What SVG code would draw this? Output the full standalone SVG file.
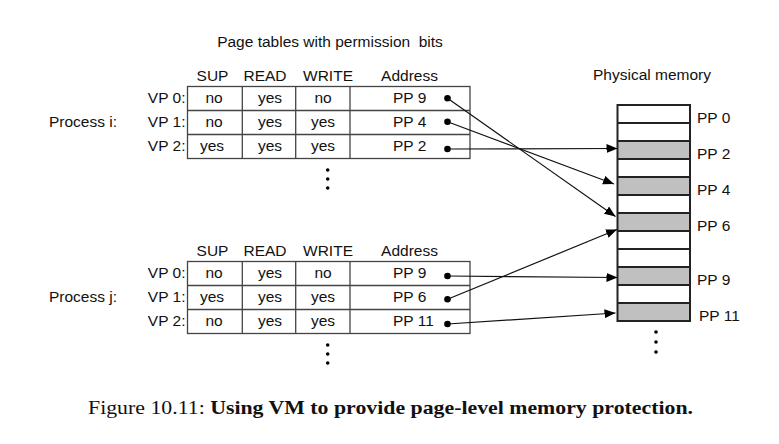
<svg xmlns="http://www.w3.org/2000/svg" width="779" height="444" viewBox="0 0 779 444">
<style>
text{font-family:"Liberation Sans",Arial,sans-serif;font-size:15.5px;fill:#111}
.c{text-anchor:middle}
.r{text-anchor:end}
.tb{fill:#fff;stroke:#444;stroke-width:1.3}
.tl{stroke:#444;stroke-width:1.3}
.mem{stroke:#222;stroke-width:2}
.g{fill:#c0c0c0}
.w{fill:#fff}
.cap{font-family:"Liberation Serif","Times New Roman",serif;font-size:19.5px;fill:#111}
.con{stroke:#111;stroke-width:1.2;fill:none;marker-end:url(#ah)}
</style>
<defs>
<marker id="ah" markerUnits="userSpaceOnUse" markerWidth="12" markerHeight="10" refX="11" refY="4.5" orient="auto">
<path d="M0,0 L11,4.5 L0,9 z" fill="#000"/>
</marker>
</defs>
<rect width="779" height="444" fill="#fff"/>

<text id="title" class="c" x="330" y="47" xml:space="preserve">Page tables with permission  bits</text>

<g id="table-i">
<text class="c" x="212.5" y="80.7">SUP</text>
<text class="c" x="265" y="80.7">READ</text>
<text class="c" x="328" y="80.7">WRITE</text>
<text class="c" x="409.5" y="80.7">Address</text>
<rect class="tb" x="187.5" y="86.5" width="282.5" height="72"/>
<line class="tl" x1="187.5" y1="110.5" x2="470" y2="110.5"/>
<line class="tl" x1="187.5" y1="134.5" x2="470" y2="134.5"/>
<line class="tl" x1="242.3" y1="86.5" x2="242.3" y2="158.5"/>
<line class="tl" x1="295.7" y1="86.5" x2="295.7" y2="158.5"/>
<line class="tl" x1="350" y1="86.5" x2="350" y2="158.5"/>
<text class="r" x="185.5" y="102.5">VP 0:</text>
<text class="r" x="185.5" y="126.5">VP 1:</text>
<text class="r" x="185.5" y="150.5">VP 2:</text>
<text class="c" x="214" y="102.5">no</text>
<text class="c" x="270" y="102.5">yes</text>
<text class="c" x="323" y="102.5">no</text>
<text class="c" x="214" y="126.5">no</text>
<text class="c" x="270" y="126.5">yes</text>
<text class="c" x="323" y="126.5">yes</text>
<text class="c" x="212" y="150.5">yes</text>
<text class="c" x="270" y="150.5">yes</text>
<text class="c" x="323" y="150.5">yes</text>
<text x="393" y="102.5">PP 9</text>
<text x="393" y="126.5">PP 4</text>
<text x="393" y="150.5">PP 2</text>
<circle cx="447.5" cy="98.3" r="3.3" fill="#000"/>
<circle cx="447.5" cy="121.7" r="3.3" fill="#000"/>
<circle cx="447.5" cy="149" r="3.3" fill="#000"/>
<circle cx="327.7" cy="170" r="1.8" fill="#000"/>
<circle cx="327.7" cy="179" r="1.8" fill="#000"/>
<circle cx="327.7" cy="188" r="1.8" fill="#000"/>
</g>
<text id="proc-i" x="49" y="126.5">Process i:</text>

<g id="table-j">
<text class="c" x="212.5" y="255.7">SUP</text>
<text class="c" x="265" y="255.7">READ</text>
<text class="c" x="328" y="255.7">WRITE</text>
<text class="c" x="409.5" y="255.7">Address</text>
<rect class="tb" x="187.5" y="261.5" width="282.5" height="72"/>
<line class="tl" x1="187.5" y1="285.5" x2="470" y2="285.5"/>
<line class="tl" x1="187.5" y1="309.5" x2="470" y2="309.5"/>
<line class="tl" x1="242.3" y1="261.5" x2="242.3" y2="333.5"/>
<line class="tl" x1="295.7" y1="261.5" x2="295.7" y2="333.5"/>
<line class="tl" x1="350" y1="261.5" x2="350" y2="333.5"/>
<text class="r" x="185.5" y="277.5">VP 0:</text>
<text class="r" x="185.5" y="301.5">VP 1:</text>
<text class="r" x="185.5" y="325.5">VP 2:</text>
<text class="c" x="214" y="277.5">no</text>
<text class="c" x="270" y="277.5">yes</text>
<text class="c" x="323" y="277.5">no</text>
<text class="c" x="212" y="301.5">yes</text>
<text class="c" x="270" y="301.5">yes</text>
<text class="c" x="323" y="301.5">yes</text>
<text class="c" x="214" y="325.5">no</text>
<text class="c" x="270" y="325.5">yes</text>
<text class="c" x="323" y="325.5">yes</text>
<text x="393" y="277.5">PP 9</text>
<text x="393" y="301.5">PP 6</text>
<text x="393" y="325.5">PP 11</text>
<circle cx="447.5" cy="276" r="3.3" fill="#000"/>
<circle cx="447.5" cy="299.3" r="3.3" fill="#000"/>
<circle cx="447.5" cy="324" r="3.3" fill="#000"/>
<circle cx="327.7" cy="345" r="1.8" fill="#000"/>
<circle cx="327.7" cy="354" r="1.8" fill="#000"/>
<circle cx="327.7" cy="363" r="1.8" fill="#000"/>
</g>
<text id="proc-j" x="49" y="301.5">Process j:</text>

<g id="memory">
<text class="c" x="652" y="80">Physical memory</text>
<rect class="w" x="617.5" y="105" width="72.5" height="216"/>
<rect class="g" x="617.5" y="141" width="72.5" height="18"/>
<rect class="g" x="617.5" y="177" width="72.5" height="18"/>
<rect class="g" x="617.5" y="213" width="72.5" height="18"/>
<rect class="g" x="617.5" y="267" width="72.5" height="18"/>
<rect class="g" x="617.5" y="303" width="72.5" height="18"/>
<rect x="617.5" y="105" width="72.5" height="216" fill="none" class="mem"/>
<path class="mem" d="M617.5,123H690M617.5,141H690M617.5,159H690M617.5,177H690M617.5,195H690M617.5,213H690M617.5,231H690M617.5,249H690M617.5,267H690M617.5,285H690M617.5,303H690"/>
<text x="697" y="123">PP 0</text>
<text x="697" y="159">PP 2</text>
<text x="697" y="195">PP 4</text>
<text x="697" y="231">PP 6</text>
<text x="697" y="285">PP 9</text>
<text x="699" y="321">PP 11</text>
<circle cx="656" cy="332" r="1.8" fill="#000"/>
<circle cx="656" cy="342" r="1.8" fill="#000"/>
<circle cx="656" cy="352" r="1.8" fill="#000"/>
</g>

<g id="connectors">
<line class="con" x1="447.5" y1="98.3" x2="615.5" y2="216.5"/>
<line class="con" x1="447.5" y1="121.7" x2="614" y2="184"/>
<line class="con" x1="447.5" y1="149" x2="617.5" y2="148.5"/>
<line class="con" x1="447.5" y1="276" x2="617.5" y2="277.5"/>
<line class="con" x1="447.5" y1="299.3" x2="617" y2="229.5"/>
<line class="con" x1="447.5" y1="324" x2="615.5" y2="313"/>
</g>

<text id="caption" class="cap" x="88" y="414" textLength="605" lengthAdjust="spacingAndGlyphs">Figure 10.11: <tspan font-weight="bold">Using VM to provide page-level memory protection.</tspan></text>
</svg>
